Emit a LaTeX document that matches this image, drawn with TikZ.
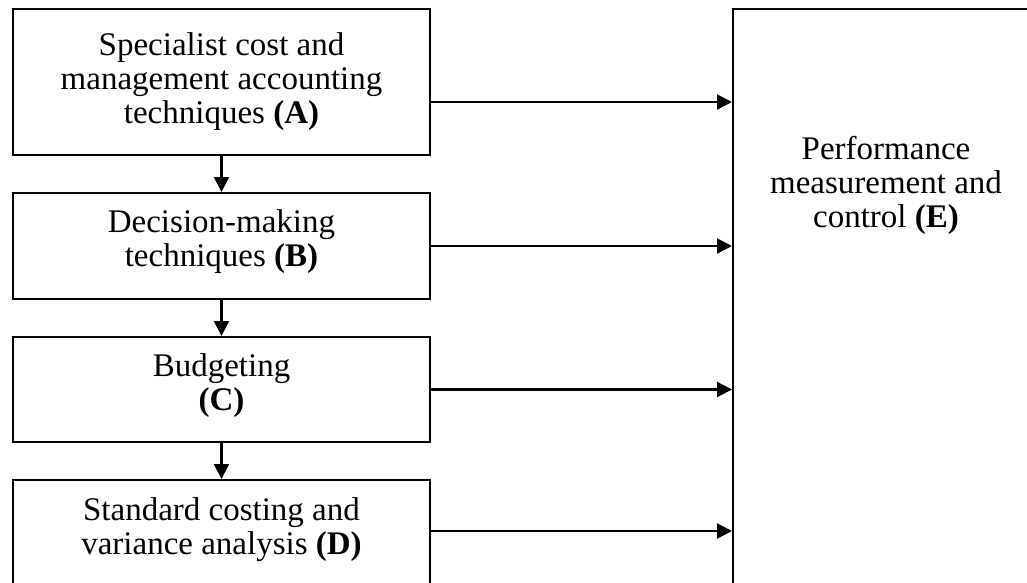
\documentclass[tikz,border=0pt]{standalone}
\usepackage{fontspec}
\setmainfont{Liberation Serif}
\usetikzlibrary{arrows.meta}
\begin{document}
\begin{tikzpicture}[x=1pt,y=-1pt,
  box/.style={draw, line width=2pt, inner sep=0pt, minimum width=417pt},
  txt/.style={align=center, font=\fontsize{33}{34}\selectfont, inner sep=0pt},
  arr/.style={line width=2.2pt, -{Triangle[length=15pt,width=15pt]}}]
\useasboundingbox (0,0) rectangle (1027,582);
\node[box, minimum height=146pt] (A) at (221.5,82) {};
\node[box, minimum height=106pt] (B) at (221.5,246) {};
\node[box, minimum height=105pt] (C) at (221.5,389.5) {};
\node[box, minimum height=106pt] (D) at (221.5,533) {};
\node[box, minimum width=307pt, minimum height=600pt] (E) at (886.5,309) {};
\node[txt] (At) at (221.5,82) {Specialist cost and\\management accounting\\techniques \textbf{(A)}};
\node[txt] (Bt) at (221.5,241.5) {Decision-making\\techniques \textbf{(B)}};
\node[txt] (Ct) at (221.5,385.5) {Budgeting\\\textbf{(C)}};
\node[txt] (Dt) at (221.5,529.5) {Standard costing and\\variance analysis \textbf{(D)}};
\node[txt] (Et) at (886,185) {Performance\\measurement and\\control \textbf{(E)}};
\draw[arr] (A.south) -- (B.north);
\draw[arr] (B.south) -- (C.north);
\draw[arr] (C.south) -- (D.north);
\draw[arr] ([yshift=-20pt]A.east) -- ([yshift=-20pt]A.east -| E.west);
\draw[arr] (B.east) -- (B.east -| E.west);
\draw[arr] (C.east) -- (C.east -| E.west);
\draw[arr] ([yshift=2pt]D.east) -- ([yshift=2pt]D.east -| E.west);
\end{tikzpicture}
\end{document}
